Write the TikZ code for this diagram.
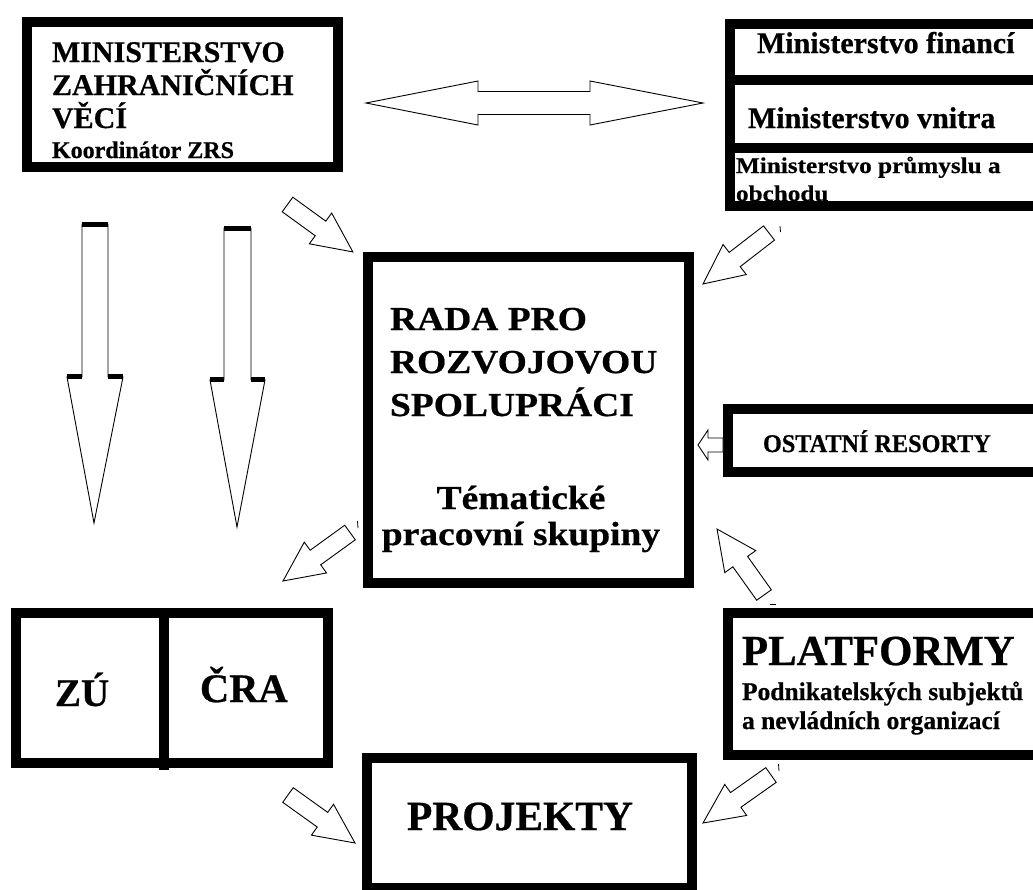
\documentclass[tikz,border=0pt]{standalone}
\usepackage{fontspec}
\setmainfont{Liberation Serif}[BoldFont={Liberation Serif Bold}]
\newfontfamily\bfont{Liberation Serif Bold}[FakeBold=0.6]
\newfontfamily\widefont{Liberation Serif Bold}[FakeStretch=1.12, FakeBold=0.6]
\newfontfamily\narrowfont{Liberation Serif Bold}[FakeStretch=0.95, FakeBold=0.6]
\newcommand{\fs}[1]{\fontsize{#1}{#1}\selectfont}
\tikzset{
  box/.style={draw=black, line width=10pt, inner sep=0pt, outer sep=0pt},
  txt/.style={inner sep=0pt, outer sep=0pt, anchor=base west, text=black},
  ctxt/.style={inner sep=0pt, outer sep=0pt, anchor=base, text=black},
  arrowline/.style={draw=black, line width=0.9pt, fill=white, line join=miter},
  thickbar/.style={draw=black, line width=5pt},
  tick/.style={draw=black, line width=0.8pt},
}
% block arrow: tail (x1,y1), tip (x2,y2), shaft half width, head half width, head length
\newcommand{\blockarrow}[7]{%
  \pgfmathsetmacro{\baang}{atan2(-(#4-#2),#3-#1)}%
  \pgfmathsetmacro{\balen}{veclen(#3-#1,#4-#2)}%
  \pgfmathsetmacro{\babase}{\balen-#7}%
  \draw[arrowline, shift={(#1,#2)}, rotate=\baang]
    (0,-#5) -- (\babase,-#5) -- (\babase,-#6) -- (\balen,0) -- (\babase,#6)
    -- (\babase,#5) -- (0,#5) -- cycle;}
\begin{document}
\begin{tikzpicture}[x=1pt,y=-1pt]
\useasboundingbox (0,0) rectangle (1033,889);
\clip (0,0) rectangle (1033,889);
\fill[white] (0,0) rectangle (1033,889);

% ---------- boxes ----------
\node[box, minimum width=311.5, minimum height=144.5] (mzv) at (182.25,94.25) {};
\node[box, minimum width=315.5, minimum height=56.5] (mf) at (887.25,51.75) {};
\node[box, minimum width=315.5, minimum height=68] (mv) at (887.25,114) {};
\node[box, minimum width=315.5, minimum height=57.5] (mp) at (887.25,176.75) {};
\node[box, minimum width=321, minimum height=326] (rada) at (528.5,420) {};
\node[box, minimum width=317.5, minimum height=63] (ostatni) at (886.25,440.5) {};
\node[box, minimum width=317.5, minimum height=142] (platf) at (886.25,684) {};
\node[box, minimum width=148, minimum height=150] (zu) at (90,688) {};
\node[box, minimum width=164, minimum height=150] (cra) at (246,688) {};
\draw[line width=10pt] (zu.south east) -- ++(0,7);
\node[box, minimum width=325, minimum height=130] (proj) at (529.5,823) {};

% ---------- texts ----------
\node[txt, font=\bfont\fs{30}] (mzv1) at (52,62) {MINISTERSTVO};
\node[txt, font=\bfont\fs{30}] (mzv2) at (52,95) {ZAHRANIČNÍCH};
\node[txt, font=\bfont\fs{30}] (mzv3) at (52,128) {VĚCÍ};
\node[txt, font=\bfont\fs{24}] (mzv4) at (52,158) {Koordinátor ZRS};

\node[txt, font=\bfont\fs{30}] (mft) at (757,53) {Ministerstvo financí};
\node[txt, font=\bfont\fs{30}] (mvt) at (748,128) {Ministerstvo vnitra};
\node[txt, font=\widefont\fs{22.5}] (mpt1) at (736,173) {Ministerstvo průmyslu a};
\node[txt, font=\widefont\fs{22.5}] (mpt2) at (736,201) {obchodu};

\node[txt, font=\widefont\fs{33.5}] (r1) at (390,330) {RADA PRO};
\node[txt, font=\widefont\fs{33.5}] (r2) at (390,373) {ROZVOJOVOU};
\node[txt, font=\widefont\fs{33.5}] (r3) at (390,416) {SPOLUPRÁCI};
\node[ctxt, font=\widefont\fs{33.5}] (r4) at (521,509) {Tématické};
\node[ctxt, font=\widefont\fs{33.5}] (r5) at (521,545) {pracovní skupiny};

\node[txt, font=\narrowfont\fs{25.5}] (ost) at (763,452) {OSTATNÍ RESORTY};

\node[txt, font=\bfont\fs{42.8}] (pl1) at (742,665) {PLATFORMY};
\node[txt, font=\bfont\fs{25.5}] (pl2) at (742,700) {Podnikatelských subjektů};
\node[txt, font=\bfont\fs{25.5}] (pl3) at (742,729) {a nevládních organizací};

\node[txt, font=\bfont\fs{39}] (zut) at (55,706) {ZÚ};
\node[txt, font=\bfont\fs{40.5}] (crat) at (200,702) {ČRA};
\node[txt, font=\bfont\fs{41.5}] (projt) at (407,830) {PROJEKTY};

% ---------- double arrow ----------
\draw[arrowline] (366,103) -- (478,81) -- (478,91.5) -- (590,91.5) -- (590,81)
  -- (703,103) -- (590,125) -- (590,114.5) -- (478,114.5) -- (478,125) -- cycle;

% ---------- long down arrows ----------
\draw[arrowline] (82,224) -- (108,224) -- (108,377) -- (123,377) -- (94,523)
  -- (67,377) -- (82,377) -- cycle;
\draw[thickbar] (82,224.5) -- (108,224.5);
\draw[thickbar] (67,376) -- (82,376) (108,376) -- (123,376);

\draw[arrowline] (224,228) -- (251,228) -- (251,380) -- (265,380) -- (237,527)
  -- (210,380) -- (224,380) -- cycle;
\draw[thickbar] (224,228.5) -- (251,228.5);
\draw[thickbar] (210,379.5) -- (224,379.5) (251,379.5) -- (265,379.5);

% ---------- small block arrows ----------
\blockarrow{287.5}{204.5}{353}{252}{9}{19}{40}
\blockarrow{769}{233}{703}{284}{9}{19}{40}
\blockarrow{350}{532.5}{283}{581}{9}{19}{40}
\blockarrow{764}{595}{717}{529}{9}{19}{40}
\blockarrow{288}{795}{355}{843}{9}{19}{40}
\blockarrow{771}{775}{703}{823}{9}{19}{40}
\blockarrow{723}{445}{698}{445}{7}{15}{10}

% ---------- tiny marks ----------
\draw[tick] (357.5,521) -- (358,528);
\draw[tick] (780,226) -- (780.5,232);
\draw[tick] (770,604) -- (776,604);
\draw[tick] (778.5,764) -- (779,771);
\end{tikzpicture}
\end{document}
